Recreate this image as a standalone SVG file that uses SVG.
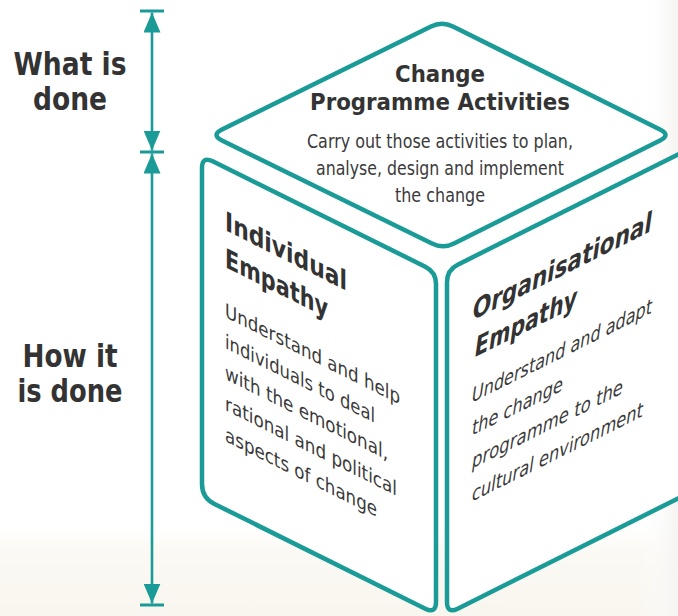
<svg xmlns="http://www.w3.org/2000/svg" width="678" height="616" viewBox="0 0 678 616">
  <defs>
    <linearGradient id="floor" x1="0" y1="0" x2="0" y2="1">
      <stop offset="0" stop-color="#ffffff"/>
      <stop offset="0.3" stop-color="#fbf9f4"/>
      <stop offset="1" stop-color="#f9f6ef"/>
    </linearGradient>
    <linearGradient id="edge" x1="0" y1="0" x2="1" y2="0">
      <stop offset="0" stop-color="#ffffff" stop-opacity="0"/>
      <stop offset="1" stop-color="#f5f4f2"/>
    </linearGradient>
    <marker id="arrow" viewBox="0 0 20 17" refX="20" refY="8.5" markerWidth="20" markerHeight="17" markerUnits="userSpaceOnUse" orient="auto-start-reverse">
      <path d="M0,0 L20,8.5 L0,17 Z" fill="#1a9b97"/>
    </marker>
    <style>
      .face { fill: #ffffff; stroke: #1a9b97; stroke-width: 4.5; stroke-linejoin: round; }
      .dim { stroke: #1a9b97; stroke-width: 2.6; fill: none; }
      .tick { stroke: #1a9b97; stroke-width: 3; }
      .side { font-family: "DejaVu Sans", Verdana, sans-serif; font-weight: bold; font-size: 32px; fill: #333333; text-anchor: middle; }
      .head { font-family: "DejaVu Sans", Verdana, sans-serif; font-weight: bold; font-size: 23px; fill: #333333; }
      .body { font-family: "DejaVu Sans", Verdana, sans-serif; font-size: 19px; fill: #3a3a3a; }
      .shead { font-family: "DejaVu Sans", Verdana, sans-serif; font-weight: bold; font-size: 27px; fill: #333333; }
      .sbody { font-family: "DejaVu Sans", Verdana, sans-serif; font-size: 20px; fill: #3a3a3a; }
      .obl { font-style: oblique; }
      .mid { text-anchor: middle; }
    </style>
  </defs>

  <!-- backdrop -->
  <rect x="0" y="0" width="678" height="616" fill="#ffffff"/>
  <rect x="0" y="525" width="678" height="91" fill="url(#floor)"/>
  <rect x="638" y="0" width="40" height="616" fill="url(#edge)"/>

  <!-- side labels -->
  <g id="label-what">
    <text class="side" x="70" y="75" textLength="113" lengthAdjust="spacingAndGlyphs">What is</text>
    <text class="side" x="70" y="110" textLength="74" lengthAdjust="spacingAndGlyphs">done</text>
  </g>
  <g id="label-how">
    <text class="side" x="70" y="367" textLength="95" lengthAdjust="spacingAndGlyphs">How it</text>
    <text class="side" x="70" y="402" textLength="105" lengthAdjust="spacingAndGlyphs">is done</text>
  </g>

  <!-- dimension arrows -->
  <g id="connectors">
    <line class="tick" x1="140" y1="11" x2="164" y2="11"/>
    <line class="tick" x1="140" y1="152" x2="164" y2="152"/>
    <line class="tick" x1="140" y1="605" x2="164" y2="605"/>
    <line class="dim" x1="152" y1="12.5" x2="152" y2="150.5" marker-start="url(#arrow)" marker-end="url(#arrow)"/>
    <line class="dim" x1="152" y1="153.5" x2="152" y2="603.5" marker-start="url(#arrow)" marker-end="url(#arrow)"/>
  </g>

  <!-- top face -->
  <g id="face-top">
    <path class="face" d="M431,26.5 Q442,21 453,26.5 L660,129.5 Q671,135 660,140.5 L454,243.5 Q443,249 432,243.5 L222,140.5 Q211,135 222,129.5 Z"/>
    <text class="head mid" x="440" y="82" textLength="90" lengthAdjust="spacingAndGlyphs">Change</text>
    <text class="head mid" x="440" y="110" textLength="260" lengthAdjust="spacingAndGlyphs">Programme Activities</text>
    <text class="body mid" x="440" y="148" textLength="266" lengthAdjust="spacingAndGlyphs">Carry out those activities to plan,</text>
    <text class="body mid" x="440" y="175" textLength="248" lengthAdjust="spacingAndGlyphs">analyse, design and implement</text>
    <text class="body mid" x="440" y="202" textLength="90" lengthAdjust="spacingAndGlyphs">the change</text>
  </g>

  <!-- left face -->
  <g id="face-left">
    <path class="face" d="M202,168 Q202,156 212.7,161.3 L425.3,266.7 Q436,272 436,284 L436,602 Q436,614 425.3,608.7 L214.5,504 Q202,498 202,484 Z"/>
    <g transform="translate(225,230) skewY(26.565)">
      <text class="shead" x="0" y="0" textLength="122" lengthAdjust="spacingAndGlyphs">Individual</text>
      <text class="shead" x="0" y="37" textLength="103" lengthAdjust="spacingAndGlyphs">Empathy</text>
      <text class="sbody" x="0" y="87" textLength="175" lengthAdjust="spacingAndGlyphs">Understand and help</text>
      <text class="sbody" x="0" y="118" textLength="150" lengthAdjust="spacingAndGlyphs">individuals to deal</text>
      <text class="sbody" x="0" y="149" textLength="163" lengthAdjust="spacingAndGlyphs">with the emotional,</text>
      <text class="sbody" x="0" y="180" textLength="172" lengthAdjust="spacingAndGlyphs">rational and political</text>
      <text class="sbody" x="0" y="211" textLength="152" lengthAdjust="spacingAndGlyphs">aspects of change</text>
    </g>
  </g>

  <!-- right face -->
  <g id="face-right">
    <path class="face" d="M447,282 Q447,270 457.7,264.7 L710,138.5 L710,482.5 L457.7,608.7 Q447,614 447,602 Z"/>
    <g transform="translate(473,320) skewY(-26.565)">
      <text class="shead obl" x="0" y="0" textLength="179" lengthAdjust="spacingAndGlyphs">Organisational</text>
      <text class="shead obl" x="2" y="38" textLength="102" lengthAdjust="spacingAndGlyphs">Empathy</text>
      <text class="sbody obl" x="-1" y="82" textLength="180" lengthAdjust="spacingAndGlyphs">Understand and adapt</text>
      <text class="sbody obl" x="-1" y="115" textLength="91" lengthAdjust="spacingAndGlyphs">the change</text>
      <text class="sbody obl" x="-1" y="148" textLength="151" lengthAdjust="spacingAndGlyphs">programme to the</text>
      <text class="sbody obl" x="-1" y="181" textLength="171" lengthAdjust="spacingAndGlyphs">cultural environment</text>
    </g>
  </g>
</svg>
